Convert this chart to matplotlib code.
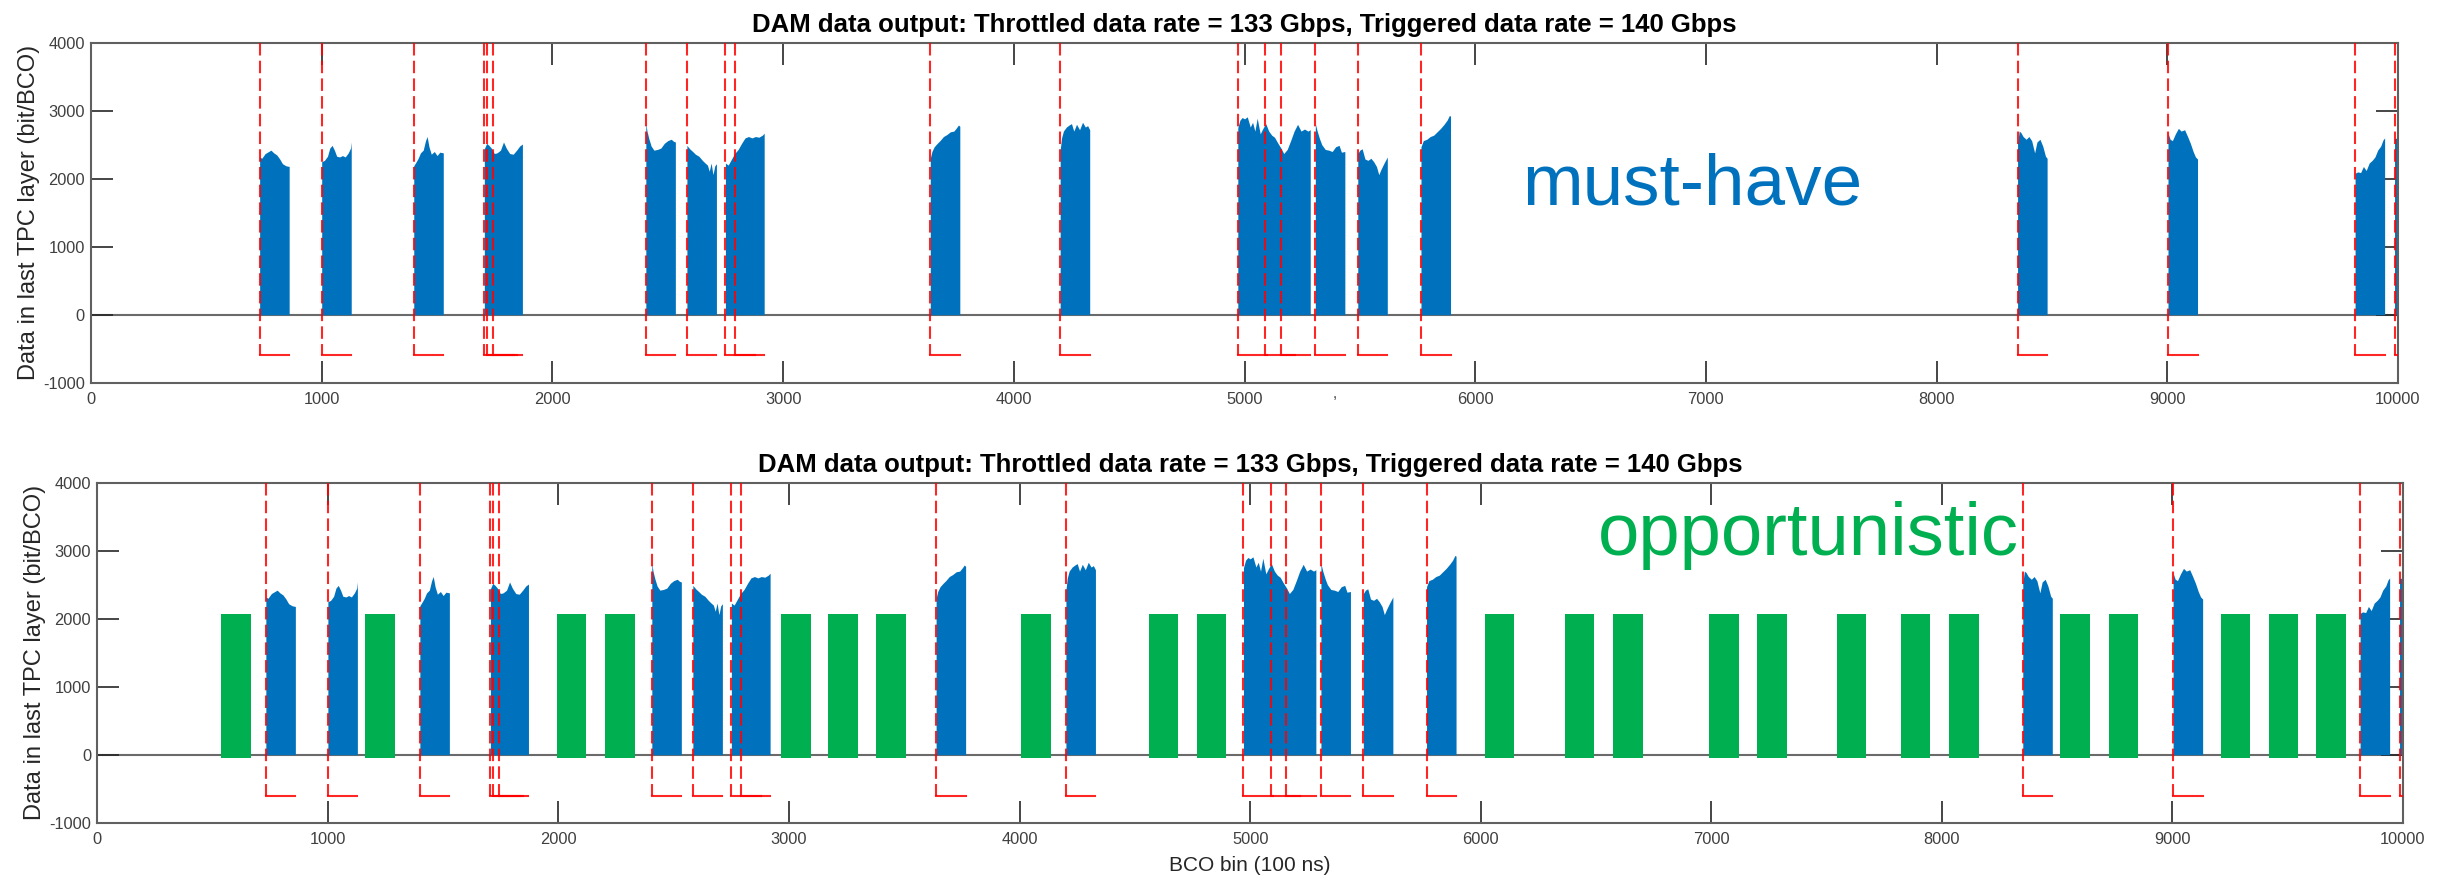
import numpy as np
import matplotlib
matplotlib.use('Agg')
import matplotlib.pyplot as plt

# 글꼴 (Arial 대신 Liberation Sans)
plt.rcParams['font.family'] = ['Liberation Sans', 'DejaVu Sans']
plt.rcParams['axes.unicode_minus'] = False

# ---- 데이터 ----
# 트리거 시작 BCO (빨간 점선)
trigger_bco = [731, 1000, 1399, 1705, 1718, 1742, 2405, 2583, 2750, 2790,
               3638, 4201, 4971, 5089, 5157, 5307, 5491, 5765, 8351, 9003,
               9814, 9985]
window = 128          # 트리거 창 길이 (BCO)
bracket_level = -600  # 빨간 괄호 아래쪽 높이

# must-have 데이터 (파란 영역) : 연속 구간별 x, y
mh_x = [
    [731, 740, 755, 770, 780, 792, 805, 818, 830, 845, 859],
    [1000, 1012, 1025, 1035, 1045, 1055, 1065, 1078, 1090, 1102, 1115, 1125, 1128],
    [1399, 1408, 1418, 1428, 1440, 1450, 1457, 1465, 1475, 1488, 1500, 1512, 1527],
    [1705, 1715, 1725, 1735, 1748, 1760, 1775, 1788, 1800, 1815, 1830, 1845, 1858, 1870],
    [2405, 2410, 2418, 2428, 2440, 2455, 2470, 2485, 2500, 2515, 2525, 2533],
    [2583, 2595, 2608, 2620, 2635, 2650, 2662, 2672, 2680, 2688, 2696, 2704, 2711],
    [2750, 2762, 2775, 2790, 2805, 2820, 2835, 2850, 2865, 2880, 2895, 2910, 2918],
    [3638, 3645, 3655, 3668, 3680, 3695, 3710, 3725, 3740, 3752, 3760, 3766],
    [4201, 4207, 4215, 4228, 4240, 4250, 4260, 4272, 4285, 4298, 4310, 4320, 4329],
    [4971, 4980, 4990, 5000, 5012, 5025, 5035, 5045, 5055, 5068, 5080, 5092, 5105,
     5118, 5130, 5145, 5158, 5170, 5185, 5200, 5215, 5230, 5245, 5260, 5275, 5285],
    [5307, 5315, 5325, 5335, 5350, 5365, 5380, 5395, 5410, 5420, 5435],
    [5491, 5500, 5510, 5522, 5535, 5548, 5560, 5572, 5582, 5592, 5605, 5619],
    [5765, 5775, 5790, 5805, 5820, 5835, 5850, 5865, 5878, 5888, 5893],
    [8351, 8358, 8365, 8375, 8388, 8400, 8412, 8425, 8435, 8448, 8460, 8472, 8479],
    [9003, 9012, 9022, 9035, 9048, 9060, 9075, 9088, 9100, 9112, 9122, 9131],
    [9814, 9825, 9838, 9850, 9862, 9875, 9888, 9900, 9912, 9925, 9935, 9942],
    [9985, 10000],
]
mh_y = [
    [2320, 2300, 2370, 2400, 2420, 2380, 2350, 2290, 2220, 2190, 2180],
    [2250, 2270, 2330, 2450, 2490, 2420, 2330, 2320, 2340, 2320, 2380, 2450, 2540],
    [2190, 2240, 2300, 2380, 2420, 2560, 2620, 2470, 2360, 2400, 2340, 2390, 2380],
    [2440, 2520, 2490, 2450, 2370, 2380, 2420, 2540, 2450, 2370, 2360, 2420, 2480, 2510],
    [2820, 2700, 2590, 2480, 2420, 2430, 2450, 2520, 2560, 2580, 2550, 2540],
    [2490, 2440, 2400, 2360, 2330, 2270, 2230, 2200, 2110, 2230, 2060, 2190, 2220],
    [2230, 2200, 2280, 2370, 2430, 2520, 2600, 2620, 2600, 2620, 2610, 2640, 2670],
    [2300, 2400, 2470, 2520, 2560, 2620, 2650, 2690, 2700, 2750, 2790, 2770],
    [2420, 2600, 2700, 2760, 2790, 2810, 2700, 2800, 2720, 2830, 2760, 2780, 2720],
    [2750, 2860, 2900, 2880, 2910, 2760, 2830, 2700, 2890, 2660, 2740, 2810, 2700,
     2640, 2610, 2520, 2450, 2370, 2430, 2560, 2700, 2800, 2700, 2730, 2700, 2720],
    [2810, 2700, 2590, 2500, 2430, 2420, 2400, 2470, 2490, 2390, 2400],
    [2370, 2420, 2440, 2290, 2270, 2300, 2250, 2180, 2060, 2140, 2230, 2320],
    [2470, 2560, 2580, 2620, 2640, 2690, 2740, 2800, 2860, 2930, 2920],
    [2520, 2700, 2680, 2620, 2580, 2620, 2560, 2380, 2540, 2580, 2480, 2330, 2300],
    [2670, 2580, 2560, 2660, 2740, 2700, 2720, 2620, 2520, 2400, 2320, 2290],
    [2080, 2100, 2090, 2180, 2120, 2230, 2270, 2320, 2420, 2480, 2570, 2600],
    [2590, 2600],
]

# opportunistic 데이터 (초록 막대) 시작 BCO
opp_start = [537, 1161, 1993, 2202, 2966, 3170, 3379, 4007, 4560, 4769, 6018,
             6365, 6574, 6991, 7200, 7545, 7822, 8031, 8514, 8723, 9209, 9418, 9624]
opp_top = 2070
opp_bottom = -45

title = 'DAM data output: Throttled data rate = 133 Gbps, Triggered data rate = 140 Gbps'
blue = '#0072BD'
green = '#00B050'

fig = plt.figure(figsize=(24.5, 8.8), dpi=100)
W, H = 2450, 880
ax1 = fig.add_axes([91 / W, 1 - 382.7 / H, (2398 - 91) / W, 340 / H])
ax2 = fig.add_axes([97.3 / W, 1 - 822.7 / H, (2403 - 97.3) / W, 340 / H])


def draw_panel(ax):
    # 0 기준선
    ax.axhline(0, color='#6a6a6a', lw=1.5, zorder=1.5)
    # 파란 영역
    for xs, ys in zip(mh_x, mh_y):
        ax.fill_between(xs, 0, ys, color=blue, lw=0, zorder=2)
    # 빨간 괄호 (점선 + 아래 가로선)
    for t in trigger_bco:
        ax.plot([t, t], [4000, bracket_level], color='red', lw=1.5,
                ls=(0, (6, 2.5)), zorder=3, alpha=0.85)
        ax.plot([t, t + window], [bracket_level, bracket_level], color='red',
                lw=1.5, zorder=3, alpha=0.85)

    ax.set_xlim(0, 10000)
    ax.set_ylim(-1000, 4000)
    ax.set_xticks(np.arange(0, 10001, 1000))
    ax.set_yticks(np.arange(-1000, 4001, 1000))
    ax.tick_params(direction='in', length=16, width=1.2, top=True, right=True,
                   labelsize=11.8, labelcolor='#404040', color='#262626')
    ax.tick_params(axis='x', pad=7)
    ax.tick_params(axis='y', pad=4.5)
    for s in ax.spines.values():
        s.set_color('#606060')
        s.set_linewidth(1.5)
    ax.set_title(title, fontsize=18.5, fontweight='bold', pad=8)
    ax.set_ylabel('Data in last TPC layer (bit/BCO)', fontsize=17, color='#262626',
                  labelpad=2)


draw_panel(ax1)
draw_panel(ax2)

# 초록 막대 (아래 그래프만)
ax2.bar(opp_start, opp_top - opp_bottom, bottom=opp_bottom, width=window,
        align='edge', color=green, lw=0, zorder=2.5)

ax1.text(6203, 1626, 'must-have', color=blue, fontsize=52.5, zorder=5)
ax2.text(6509, 2937, 'opportunistic', color=green, fontsize=53.5, zorder=5)
ax1.text(5390, -1230, ',', color='#404040', fontsize=11, ha='center')

ax2.set_xlabel('BCO bin (100 ns)', fontsize=15, color='#262626', labelpad=6)

plt.savefig('out.png', dpi=100)
